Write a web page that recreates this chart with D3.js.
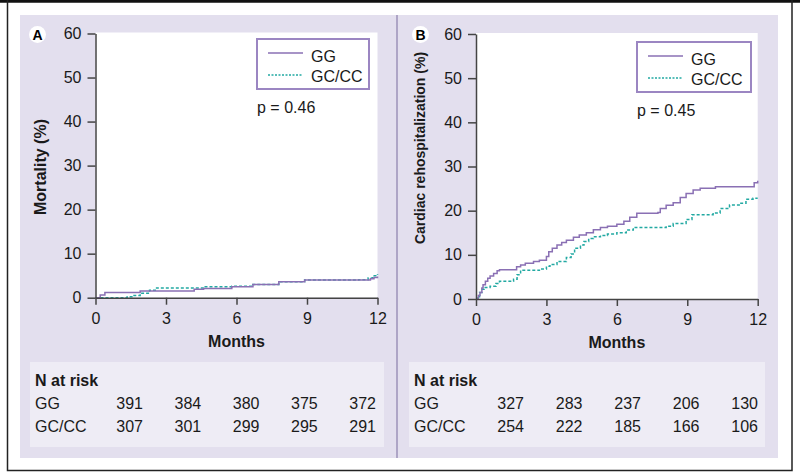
<!DOCTYPE html>
<html>
<head>
<meta charset="utf-8">
<script src="https://cdn.jsdelivr.net/npm/d3@7"></script>
<style>
  body { margin: 0; background: #fff; }
  svg { display: block; font-family: "Liberation Sans", Arial, sans-serif; }
</style>
</head>
<body>
<div id="chart"></div>
<script>
// ---- data ----
const xTicks = [0, 3, 6, 9, 12];
const yTicks = [0, 10, 20, 30, 40, 50, 60];
const groups = ["GG", "GC/CC"];

// panel A: mortality (%), step events [month, cumulative %]
const mortalityGG = [[0,0],[0.2,0.6],[0.4,1.2],[1.9,1.5],[4.2,1.9],[4.6,2.1],[5.8,2.5],[6.7,3.0],[7.8,3.6],[8.9,4.0],[11.7,4.3],[11.85,4.6],[12,4.8]];
const mortalityGCCC = [[0,0],[1.35,0.2],[1.6,0.5],[1.9,1.0],[2.3,1.7],[2.6,2.2],[4.6,2.5],[5.8,2.6],[6.7,3.0],[7.8,3.6],[8.9,4.0],[11.2,4.1],[11.6,4.5],[11.8,5.0],[12,5.4]];

// panel B: cardiac rehospitalization (%)
const rehospGG = [[0,0],[0.1,0.8],[0.17,1.5],[0.25,2.5],[0.3,3.2],[0.4,4.0],[0.5,4.7],[0.6,5.2],[0.75,5.8],[0.9,6.4],[1.0,6.6],[1.73,7.3],[1.9,7.7],[2.1,8.1],[2.45,8.5],[2.7,8.8],[3.0,9.6],[3.1,10.7],[3.25,11.5],[3.45,12.2],[3.65,12.8],[3.85,13.3],[4.15,14.0],[4.4,14.5],[4.7,15.0],[5.0,15.7],[5.3,16.2],[5.6,16.5],[6.0,16.9],[6.3,17.6],[6.55,18.5],[6.85,19.4],[7.75,19.6],[7.85,20.5],[8.1,21.2],[8.4,21.8],[8.7,23.0],[8.95,23.9],[9.25,24.7],[9.55,25.1],[10.2,25.4],[11.85,26.3],[12,26.8]];
const rehospGCCC = [[0,0],[0.05,0.5],[0.15,1.5],[0.25,2.2],[0.35,2.6],[0.6,2.9],[0.85,3.5],[1.0,4.0],[1.6,4.5],[1.75,5.5],[1.9,6.5],[2.7,6.8],[3.0,7.4],[3.15,7.8],[3.45,8.5],[3.85,9.4],[4.05,10.2],[4.2,11.5],[4.45,12.2],[4.6,13.0],[4.8,13.7],[5.0,14.1],[5.3,14.4],[5.6,14.7],[6.0,15.0],[6.4,15.6],[6.7,16.2],[8.1,16.5],[8.4,17.1],[8.95,18.0],[9.2,19.1],[10.1,19.5],[10.4,20.5],[10.8,21.3],[11.25,21.7],[11.5,22.6],[11.8,22.8],[12,22.8]];

// numbers at risk
const riskA_GG = [391, 384, 380, 375, 372];
const riskA_GCCC = [307, 301, 299, 295, 291];
const riskB_GG = [327, 283, 237, 206, 130];
const riskB_GCCC = [254, 222, 185, 166, 106];

// ---- layout ----
const W = 800, H = 476;
const purple = "#8a70b4";
const teal = "#22a9a2";
const lavender = "#e3dfee";
const tableBg = "#eeecf5";
const axisCol = "#444";
const textCol = "#1a1a1a";

const svg = d3.select("#chart").append("svg")
    .attr("width", W)
    .attr("height", H);

// frame
svg.append("rect").attr("x", 0).attr("y", 0).attr("width", W).attr("height", H).attr("fill", "#fff");
svg.append("rect").attr("x", 20).attr("y", 15).attr("width", 758).attr("height", 443).attr("fill", lavender);
svg.append("line").attr("x1", 397).attr("x2", 397).attr("y1", 15).attr("y2", 458)
    .attr("stroke", "#9c92b9").attr("stroke-width", 1.5);
svg.append("line").attr("x1", 0).attr("x2", W).attr("y1", 1.2).attr("y2", 1.2)
    .attr("stroke", "#111").attr("stroke-width", 3);
svg.append("path")
    .attr("d", "M7.5,0 V470.5 H792 V0")
    .attr("fill", "none").attr("stroke", "#222").attr("stroke-width", 1.5);

function drawPanel(p) {
  const x = d3.scaleLinear().domain([0, 12]).range([p.left, p.right]);
  const y = d3.scaleLinear().domain([0, 60]).range([p.bottom, p.top]);

  svg.append("rect")
      .attr("x", p.left).attr("y", p.top - 1)
      .attr("width", p.right - p.left).attr("height", p.bottom - p.top + 1)
      .attr("fill", "#fff");

  // panel letter
  svg.append("circle").attr("cx", p.letterX).attr("cy", 34.5).attr("r", 8.5).attr("fill", "#fff");
  svg.append("text").attr("x", p.letterX).attr("y", 39.5)
      .attr("text-anchor", "middle").attr("font-size", 14).attr("font-weight", "bold")
      .attr("fill", "#000").text(p.letter);

  // curves
  const line = d3.line()
      .x(d => x(d[0]))
      .y(d => y(d[1]))
      .curve(d3.curveStepAfter);

  svg.append("path").datum(p.gccc).attr("d", line)
      .attr("fill", "none").attr("stroke", teal).attr("stroke-width", 1.5)
      .attr("stroke-dasharray", "3,2");
  svg.append("path").datum(p.gg).attr("d", line)
      .attr("fill", "none").attr("stroke", purple).attr("stroke-width", 1.5);

  // axes
  const gx = svg.append("g").attr("transform", `translate(0,${p.bottom})`)
      .call(d3.axisBottom(x).tickValues(xTicks).tickSize(7).tickPadding(8).tickSizeOuter(0));
  const gy = svg.append("g").attr("transform", `translate(${p.left},0)`)
      .call(d3.axisLeft(y).tickValues(yTicks).tickSize(8).tickPadding(6).tickSizeOuter(0));
  [gx, gy].forEach(g => {
    g.select(".domain").attr("stroke", axisCol).attr("stroke-width", 1.5);
    g.selectAll(".tick line").attr("stroke", axisCol).attr("stroke-width", 1.5);
    g.selectAll(".tick text").attr("font-size", 16).attr("fill", textCol)
        .attr("font-family", "Liberation Sans, Arial, sans-serif");
  });

  svg.append("text")
      .attr("x", (p.left + p.right) / 2).attr("y", p.bottom + 49)
      .attr("text-anchor", "middle").attr("font-size", 16).attr("font-weight", "bold")
      .attr("fill", textCol).text("Months");

  svg.append("text")
      .attr("transform", `translate(${p.yLabelX},${p.yLabelY}) rotate(-90)`)
      .attr("text-anchor", "middle").attr("font-size", p.yLabelSize).attr("font-weight", "bold")
      .attr("fill", textCol).text(p.yLabel);

  // legend
  const lg = p.legend;
  svg.append("rect").attr("x", lg.x).attr("y", lg.y).attr("width", lg.w).attr("height", 50)
      .attr("fill", "#fff").attr("stroke", "#9b86c2").attr("stroke-width", 2);
  const lineY = [lg.y + 14, lg.y + 36];
  const cols = [purple, teal];
  groups.forEach((gname, i) => {
    svg.append("line")
        .attr("x1", lg.x + 11).attr("x2", lg.x + 46)
        .attr("y1", lineY[i]).attr("y2", lineY[i])
        .attr("stroke", cols[i]).attr("stroke-width", 1.5)
        .attr("stroke-dasharray", i === 1 ? "2,1.5" : null);
    svg.append("text")
        .attr("x", lg.x + 54).attr("y", lg.y + 23 + i * 20)
        .attr("font-size", 16).attr("fill", textCol).text(gname);
  });
  svg.append("text").attr("x", lg.x).attr("y", lg.y + 74)
      .attr("font-size", 16).attr("fill", textCol).text(p.pval);

  // numbers at risk
  svg.append("rect").attr("x", p.tableX).attr("y", 362).attr("width", p.tableW).attr("height", 85)
      .attr("fill", tableBg);
  svg.append("text").attr("x", p.tableX + 5).attr("y", 386)
      .attr("font-size", 16).attr("font-weight", "bold").attr("fill", textCol).text("N at risk");
  const cx = d3.scaleLinear().domain([0, xTicks.length - 1]).range(p.numRange);
  [p.riskGG, p.riskGCCC].forEach((row, r) => {
    const ry = 409 + r * 23;
    svg.append("text").attr("x", p.tableX + 5).attr("y", ry)
        .attr("font-size", 16).attr("fill", textCol).text(groups[r]);
    svg.selectAll(null).data(row).enter().append("text")
        .attr("x", (d, i) => cx(i)).attr("y", ry)
        .attr("text-anchor", "end").attr("font-size", 16).attr("fill", textCol)
        .text(d => d);
  });
}

drawPanel({
  letter: "A", letterX: 37.5,
  left: 95.5, right: 377.5, top: 33.5, bottom: 297.7,
  gg: mortalityGG, gccc: mortalityGCCC,
  yLabel: "Mortality (%)", yLabelSize: 16, yLabelX: 46, yLabelY: 167,
  legend: { x: 257, y: 39, w: 112 }, pval: "p = 0.46",
  tableX: 30, tableW: 354, numRange: [143, 376],
  riskGG: riskA_GG, riskGCCC: riskA_GCCC
});

drawPanel({
  letter: "B", letterX: 420.5,
  left: 476, right: 757.7, top: 34, bottom: 299,
  gg: rehospGG, gccc: rehospGCCC,
  yLabel: "Cardiac rehospitalization (%)", yLabelSize: 14, yLabelX: 425, yLabelY: 148,
  legend: { x: 637, y: 42, w: 114 }, pval: "p = 0.45",
  tableX: 409, tableW: 356, numRange: [524, 758],
  riskGG: riskB_GG, riskGCCC: riskB_GCCC
});
</script>
</body>
</html>
